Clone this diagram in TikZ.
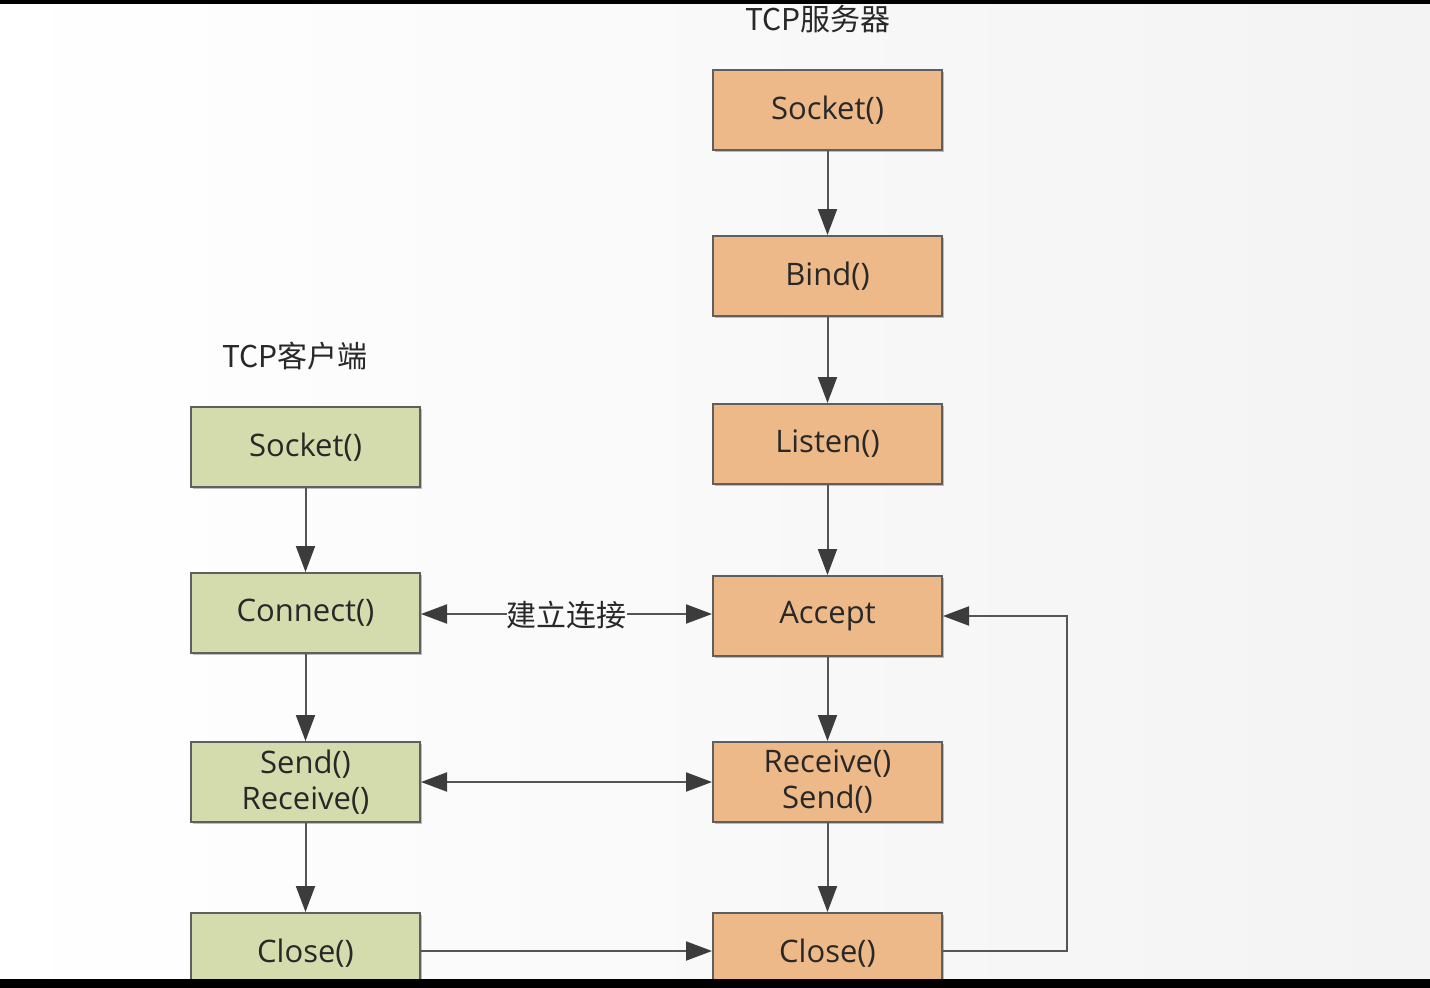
\documentclass[tikz,border=0pt]{standalone}
\usepackage{fontspec}
\setmainfont{Open Sans}
\newfontfamily\cjk{Noto Sans CJK SC}
\usetikzlibrary{arrows.meta,shadows}
\definecolor{orangefill}{RGB}{238,185,136}
\definecolor{greenfill}{RGB}{212,220,174}
\definecolor{boxline}{RGB}{95,95,95}
\definecolor{arrowline}{RGB}{85,85,85}
\definecolor{tipcol}{RGB}{60,60,60}
\definecolor{txt}{RGB}{40,40,40}
\tikzset{
  box/.style={draw=boxline, line width=2pt, minimum width=229pt, minimum height=80pt,
    inner sep=0pt, align=center, text=txt, font=\fontsize{31}{36}\selectfont,
    drop shadow={shadow xshift=2pt, shadow yshift=-2pt, opacity=0.25, fill=black}},
  srv/.style={box, fill=orangefill},
  cli/.style={box, fill=greenfill},
  tip/.style={Triangle[length=26pt,width=19pt,fill=tipcol]},
  conn/.style={draw=arrowline, line width=2pt, -{Triangle[length=26pt,width=19pt,color=tipcol]}},
  dconn/.style={draw=arrowline, line width=2pt, {Triangle[length=26pt,width=19pt,color=tipcol]}-{Triangle[length=26pt,width=19pt,color=tipcol]}},
  title/.style={text=txt, font=\cjk\fontsize{30}{34}\selectfont, inner sep=0pt}
}
\begin{document}
\begin{tikzpicture}[x=1pt,y=-1pt]
\useasboundingbox (0,0) rectangle (1430,988);
\clip (0,0) rectangle (1430,988);
\foreach \i in {0,...,27} {
  \pgfmathsetmacro{\g}{255-\i*0.45}
  \definecolor{bgstrip}{RGB}{\g,\g,\g}
  \fill[bgstrip] (\i*52,0) rectangle (\i*52+53,988);
}

\node[title] (tsrv) at (818,19) {TCP服务器};
\node[title] (tcli) at (295,356) {TCP客户端};

\node[srv] (s1) at (827.5,110) {Socket()};
\node[srv] (s2) at (827.5,276) {Bind()};
\node[srv] (s3) at (827.5,444) {Listen()};
\node[srv] (s4) at (827.5,616) {Accept};
\node[srv] (s5) at (827.5,782) {Receive()\\[0pt]Send()};
\node[srv] (s6) at (827.5,953) {Close()};

\node[cli] (c1) at (305.5,447) {Socket()};
\node[cli] (c2) at (305.5,613) {Connect()};
\node[cli] (c3) at (305.5,782) {Send()\\[0pt]Receive()};
\node[cli] (c4) at (305.5,953) {Close()};

\draw[conn] (s1) -- (s2);
\draw[conn] (s2) -- (s3);
\draw[conn] (s3) -- (s4);
\draw[conn] (s4) -- (s5);
\draw[conn] (s5) -- (s6);

\draw[conn] (c1) -- (c2);
\draw[conn] (c2) -- (c3);
\draw[conn] (c3) -- (c4);

\draw[dconn] (c2.east |- 0,614) -- node[fill=white!98!black, inner sep=0pt, text=txt, font=\cjk\fontsize{30}{34}\selectfont, yshift=-1pt] (lbl) {建立连接} (s4.west |- 0,614);
\draw[dconn] (c3.east) -- (s5.west);
\draw[conn] (c4.east |- 0,951) -- (s6.west |- 0,951);

\coordinate (lp) at (1067,951);
\draw[conn] (s6.east |- 0,951) -- (lp) |- (s4.east);

\fill[black] (0,0) rectangle (1430,4);
\fill[black] (0,979) rectangle (1430,988);
\end{tikzpicture}
\end{document}
